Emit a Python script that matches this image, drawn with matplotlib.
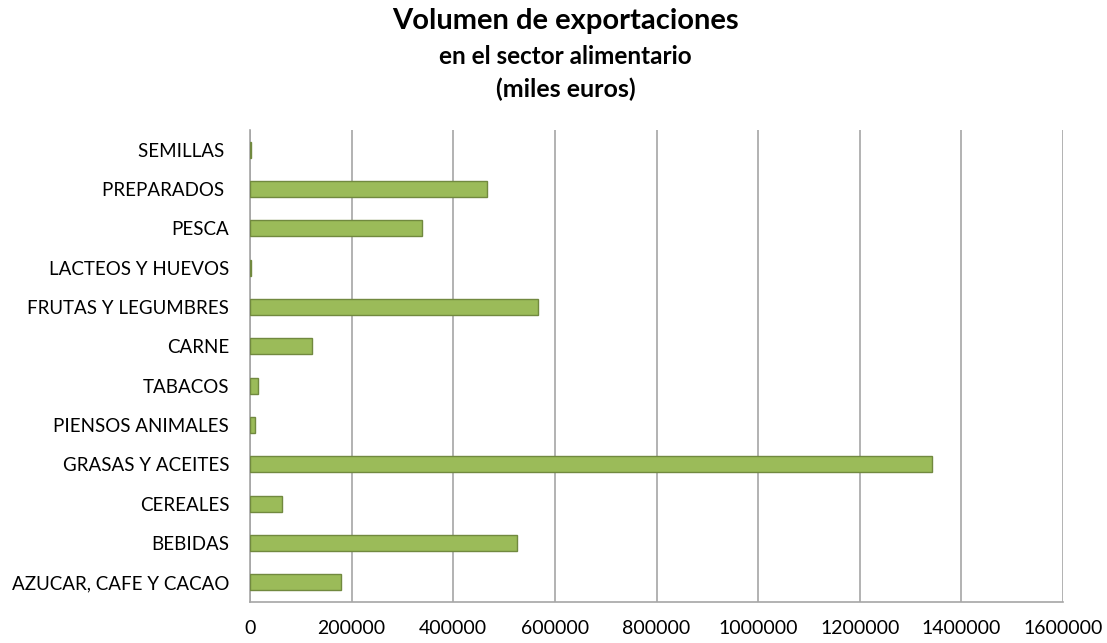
import matplotlib
matplotlib.use("Agg")
import matplotlib.pyplot as plt

# categories from bottom to top, values in miles de euros
categorias = ["AZUCAR, CAFE Y CACAO", "BEBIDAS", "CEREALES", "GRASAS Y ACEITES",
              "PIENSOS ANIMALES", "TABACOS", "CARNE", "FRUTAS Y LEGUMBRES",
              "LACTEOS Y HUEVOS", "PESCA", "PREPARADOS ", "SEMILLAS "]
valores = [180000, 526000, 62000, 1343000,
           10500, 15000, 123000, 566000,
           2000, 339000, 467000, 2000]
x_ticks = [0, 200000, 400000, 600000, 800000, 1000000, 1200000, 1400000, 1600000]

FONT = "Lato"
GRID_COLOR = "#A6A6A6"

fig = plt.figure(figsize=(11.07, 6.43), dpi=100)
ax = fig.add_axes([250 / 1107, 41 / 643, (1063 - 250) / 1107, (602 - 130) / 643])

ypos = range(len(categorias))
ax.barh(ypos, valores, height=0.41, color="#9BBB59", edgecolor="#71893F", linewidth=1, zorder=3)

ax.set_xlim(0, 1600000)
ax.set_ylim(-0.5, len(categorias) - 0.5)
ax.set_xticks(x_ticks)
ax.set_xticklabels([str(v) for v in x_ticks], fontsize=14, family=FONT)
ax.set_yticks(list(ypos))
ax.set_yticklabels(categorias, fontsize=13.5, family=FONT)
ax.tick_params(axis="x", length=0, pad=13, colors="black")
ax.tick_params(axis="y", length=0, pad=15, colors="black")

ax.grid(axis="x", color=GRID_COLOR, linewidth=1.2, zorder=0)
for s in ["top", "right"]:
    ax.spines[s].set_visible(False)
for s in ["left", "bottom"]:
    ax.spines[s].set_color(GRID_COLOR)
    ax.spines[s].set_linewidth(1.2)

fig.text(0.511, 1 - 21 / 643, "Volumen de exportaciones", ha="center", va="center",
         fontsize=21, fontweight="bold", family=FONT)
fig.text(0.511, 1 - 56 / 643, "en el sector alimentario", ha="center", va="center",
         fontsize=17.5, fontweight="bold", family=FONT)
fig.text(0.511, 1 - 89 / 643, "(miles euros)", ha="center", va="center",
         fontsize=18, fontweight="bold", family=FONT)

fig.savefig("out.png", dpi=100, facecolor="white")
